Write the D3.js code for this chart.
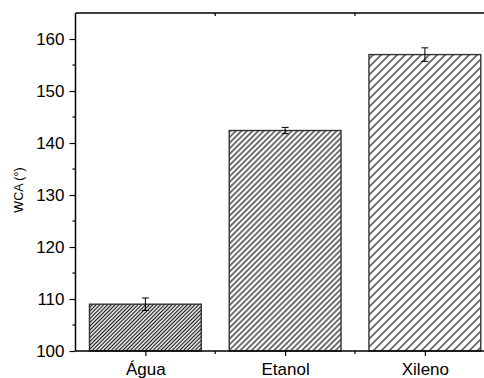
<!DOCTYPE html>
<html>
<head>
<meta charset="utf-8">
<script src="https://cdn.jsdelivr.net/npm/d3@7"></script>
<style>
  html, body { margin: 0; padding: 0; background: #fff; }
  svg { display: block; }
  text { font-family: "Liberation Sans", Arial, sans-serif; }
</style>
</head>
<body>
<svg id="chart" width="484" height="378"></svg>
<script>
// ---- data ----
const categories = ["Água", "Etanol", "Xileno"];
const wca = [109.0, 142.4, 157.0];
const wcaErr = [1.2, 0.6, 1.3];
const yTicks = [100, 110, 120, 130, 140, 150, 160];
const yLabel = "WCA (°)";

// ---- style ----
const hatchSpacing = [3.8, 5.6, 8.0]; // horizontal spacing in px

const W = 484, H = 378;
const svg = d3.select("#chart");

const x = d3.scaleLinear().domain([0.5, 3.5]).range([75.5, 494.75]);
const y = d3.scaleLinear().domain([100, 165]).range([351, 13]);

// patterns
const defs = svg.append("defs");
hatchSpacing.forEach((s, i) => {
  const p = s / Math.SQRT2;
  const pat = defs.append("pattern")
    .attr("id", "hatch" + i)
    .attr("patternUnits", "userSpaceOnUse")
    .attr("width", p).attr("height", p)
    .attr("patternTransform", "rotate(45)");
  pat.append("rect").attr("width", p).attr("height", p).attr("fill", "#fff");
  pat.append("line")
    .attr("x1", p / 2).attr("y1", -1).attr("x2", p / 2).attr("y2", p + 1)
    .attr("stroke", "#111").attr("stroke-width", 1.2);
});

// bars
const barW = x(1.8) - x(1);
svg.append("g").selectAll("rect")
  .data(categories)
  .join("rect")
  .attr("x", (d, i) => x(i + 1) - barW / 2)
  .attr("y", (d, i) => y(wca[i]))
  .attr("width", barW)
  .attr("height", (d, i) => y(100) - y(wca[i]))
  .attr("fill", (d, i) => `url(#hatch${i})`)
  .attr("stroke", "#333")
  .attr("stroke-width", 1.4);

// error bars
const eg = svg.append("g").attr("stroke", "#000").attr("stroke-width", 1);
categories.forEach((c, i) => {
  const cx = x(i + 1);
  const y1 = y(wca[i] + wcaErr[i]), y2 = y(wca[i] - wcaErr[i]);
  eg.append("line").attr("x1", cx).attr("x2", cx).attr("y1", y1).attr("y2", y2);
  eg.append("line").attr("x1", cx - 3.5).attr("x2", cx + 3.5).attr("y1", y1).attr("y2", y1);
  eg.append("line").attr("x1", cx - 3.5).attr("x2", cx + 3.5).attr("y1", y2).attr("y2", y2);
});

// y axis
const yAxis = d3.axisLeft(y).tickValues(yTicks).tickSize(6).tickPadding(5);
const gy = svg.append("g").attr("transform", `translate(${x(0.5)},0)`).call(yAxis);
gy.select(".domain").remove();
gy.selectAll(".tick line").attr("stroke", "#000").attr("stroke-width", 1.2);
gy.selectAll(".tick text").attr("font-size", 17).attr("fill", "#000")
  .attr("font-family", "Liberation Sans, Arial, sans-serif");
// y minor ticks
const yMinor = yTicks.map(v => v + 5).filter(v => v < 165);
svg.append("g").selectAll("line").data(yMinor).join("line")
  .attr("x1", x(0.5) - 3).attr("x2", x(0.5))
  .attr("y1", d => y(d)).attr("y2", d => y(d))
  .attr("stroke", "#000").attr("stroke-width", 1.2);

// x axis
const xAxis = d3.axisBottom(x).tickValues([1, 2, 3])
  .tickFormat((d) => categories[d - 1]).tickSize(5).tickPadding(7);
const gx = svg.append("g").attr("transform", `translate(0,${y(100)})`).call(xAxis);
gx.select(".domain").remove();
gx.selectAll(".tick line").attr("stroke", "#000").attr("stroke-width", 1.2);
gx.selectAll(".tick text").attr("font-size", 17).attr("fill", "#000")
  .attr("font-family", "Liberation Sans, Arial, sans-serif");
// x minor ticks
svg.append("g").selectAll("line").data([1.5, 2.5]).join("line")
  .attr("x1", d => x(d)).attr("x2", d => x(d))
  .attr("y1", y(100)).attr("y2", y(100) + 3)
  .attr("stroke", "#000").attr("stroke-width", 1.2);
// top minor ticks (inward)
svg.append("g").selectAll("line").data([1.5, 2.5]).join("line")
  .attr("x1", d => x(d)).attr("x2", d => x(d))
  .attr("y1", y(165)).attr("y2", y(165) + 3)
  .attr("stroke", "#000").attr("stroke-width", 1.2);

// frame lines (left, bottom, top)
const frame = svg.append("g").attr("stroke", "#000").attr("stroke-width", 1.5);
frame.append("line").attr("x1", x(0.5)).attr("x2", x(0.5)).attr("y1", y(165)).attr("y2", y(100));
frame.append("line").attr("x1", x(0.5)).attr("x2", W).attr("y1", y(100)).attr("y2", y(100));
frame.append("line").attr("x1", x(0.5)).attr("x2", W).attr("y1", y(165)).attr("y2", y(165));

// y label
svg.append("text")
  .attr("transform", `translate(23,190) rotate(-90)`)
  .attr("text-anchor", "middle")
  .attr("font-size", 12.5)
  .attr("fill", "#000")
  .text(yLabel);
</script>
</body>
</html>
